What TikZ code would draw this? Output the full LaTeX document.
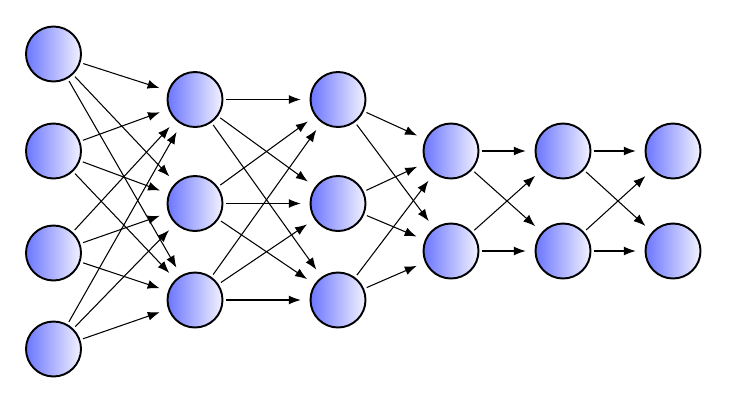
\documentclass[tikz,border=0pt]{standalone}
\usetikzlibrary{arrows.meta}
\definecolor{nblue}{RGB}{108,118,255}
\definecolor{nwhite}{RGB}{242,242,255}
\begin{document}
\begin{tikzpicture}[
		neuron/.style={circle, draw=black, line width=1.1pt, inner sep=0pt, minimum size=1.1cm, left color=nblue, right color=nwhite},
		conn/.style={-{Latex[length=2.4mm,width=1.8mm]}, line width=0.6pt, shorten <=1.6pt, shorten >=5pt}
	]
		\useasboundingbox (0, 0) rectangle (14.64, 8.04);
		% input layer
		\node[neuron] (a1) at (1.07, 6.96)		{};
		\node[neuron] (a2) at (1.07, 5.02)		{};
		\node[neuron] (a3) at (1.07, 2.98)		{};
		\node[neuron] (a4) at (1.07, 1.06)		{};
		% hidden layers
		\node[neuron] (b1) at (3.90, 6.05)		{};
		\node[neuron] (b2) at (3.90, 3.97)		{};
		\node[neuron] (b3) at (3.90, 2.04)		{};
		\node[neuron] (c1) at (6.76, 6.05)		{};
		\node[neuron] (c2) at (6.76, 3.97)		{};
		\node[neuron] (c3) at (6.76, 2.04)		{};
		\node[neuron] (d1) at (9.02, 5.02)		{};
		\node[neuron] (d2) at (9.02, 3.02)		{};
		\node[neuron] (e1) at (11.26, 5.02)		{};
		\node[neuron] (e2) at (11.26, 3.02)		{};
		% output layer
		\node[neuron] (f1) at (13.46, 5.02)		{};
		\node[neuron] (f2) at (13.46, 3.02)		{};
		
		\draw[conn] (a1) -- (b1); \draw[conn] (a1) -- (b2); \draw[conn] (a1) -- (b3);
		\draw[conn] (a2) -- (b1); \draw[conn] (a2) -- (b2); \draw[conn] (a2) -- (b3);
		\draw[conn] (a3) -- (b1); \draw[conn] (a3) -- (b2); \draw[conn] (a3) -- (b3);
		\draw[conn] (a4) -- (b1); \draw[conn] (a4) -- (b2); \draw[conn] (a4) -- (b3);
		
		\draw[conn] (b1) -- (c1); \draw[conn] (b1) -- (c2); \draw[conn] (b1) -- (c3);
		\draw[conn] (b2) -- (c1); \draw[conn] (b2) -- (c2); \draw[conn] (b2) -- (c3);
		\draw[conn] (b3) -- (c1); \draw[conn] (b3) -- (c2); \draw[conn] (b3) -- (c3);
		
		\draw[conn] (c1) -- (d1); \draw[conn] (c1) -- (d2);
		\draw[conn] (c2) -- (d1); \draw[conn] (c2) -- (d2);
		\draw[conn] (c3) -- (d1); \draw[conn] (c3) -- (d2);
		
		\draw[conn] (d1) -- (e1); \draw[conn] (d1) -- (e2);
		\draw[conn] (d2) -- (e1); \draw[conn] (d2) -- (e2);
		
		\draw[conn] (e1) -- (f1); \draw[conn] (e1) -- (f2);
		\draw[conn] (e2) -- (f1); \draw[conn] (e2) -- (f2);
	\end{tikzpicture}
\end{document}
